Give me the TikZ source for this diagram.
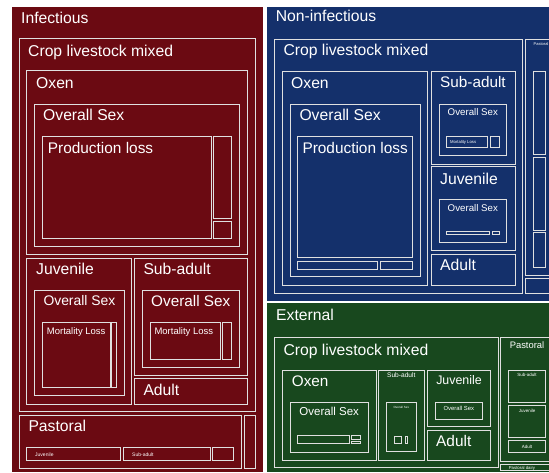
\documentclass[tikz,border=0pt]{standalone}
\usepackage{fontspec}
\setmainfont{Liberation Sans}
\definecolor{infc}{RGB}{107,10,18}
\definecolor{noninfc}{RGB}{20,48,107}
\definecolor{extc}{RGB}{24,72,30}
\definecolor{edge}{RGB}{224,224,224}
\begin{document}
\begin{tikzpicture}[x=1pt,y=-1pt,
	tile/.style={draw=edge,line width=0.9pt},
	lbl/.style={text=white,inner sep=0pt,anchor=base west,font=\fontsize{#1}{#1}\selectfont},
	lbl/.default=15.7,
	clbl/.style={lbl=#1,anchor=base},
	clbl/.default=15.7]
\clip (0,0) rectangle (549,472);
% Infectious
\fill[infc] (12,7) rectangle (263,472);
\node[lbl] (inf) at (21,23) {Infectious};
\draw[tile] (19,38.3) rectangle (255.7,411.7);
\node[lbl] (infCrop) at (28,56) {Crop livestock mixed};
\draw[tile] (26.7,70.7) rectangle (247.7,254);
\node[lbl] (infOxen) at (36,88) {Oxen};
\draw[tile] (34.7,104) rectangle (239.7,246.7);
\node[lbl] (infOxenSex) at (43,120.7) {Overall Sex};
\draw[tile] (42.3,136) rectangle (211,238.3);
\node[lbl=15.4] (infProd) at (47.7,153) {Production loss};
\draw[tile] (213.7,136) rectangle (231.7,218.3);
\draw[tile] (213.7,221) rectangle (231.7,238.3);
\draw[tile] (26.7,258.3) rectangle (131.7,404);
\node[lbl] (infJuv) at (36,274.3) {Juvenile};
\draw[tile] (34.7,290) rectangle (124,395.7);
\node[lbl=13.9] (infJuvSex) at (43.3,305) {Overall Sex};
\draw[tile] (42.3,322.7) rectangle (110,387.7);
\node[lbl=9.5] (infJuvMort) at (46.7,334.3) {Mortality Loss};
\draw[tile] (111.3,322.7) rectangle (116,387.7);
\draw[tile] (134.3,258.3) rectangle (247.7,375.7);
\node[lbl] (infSub) at (143.3,274.3) {Sub-adult};
\draw[tile] (142.3,290) rectangle (239.7,367.3);
\node[lbl=15.3] (infSubSex) at (151,306.7) {Overall Sex};
\draw[tile] (150,322.7) rectangle (220.7,359);
\node[lbl=9.5] (infSubMort) at (154.3,334.3) {Mortality Loss};
\draw[tile] (222.7,322.7) rectangle (231.7,359);
\draw[tile] (134.3,378.3) rectangle (247.7,404);
\node[lbl] (infAdult) at (143.3,395) {Adult};
\draw[tile] (19,415) rectangle (241.7,468.7);
\node[lbl] (infPast) at (28.3,431.7) {Pastoral};
\draw[tile] (26.7,447.3) rectangle (120.7,460);
\node[lbl=5] (infPastJuv) at (35,456) {Juvenile};
\draw[tile] (123.3,447.3) rectangle (210,460);
\node[lbl=5] (infPastSub) at (132,456) {Sub-adult};
\draw[tile] (212.3,447.3) rectangle (233.3,460);
\draw[tile] (244.3,415) rectangle (255.7,468.7);
% Non-infectious
\fill[noninfc] (266.5,7) rectangle (549,300.5);
\node[lbl] (non) at (275.7,21.7) {Non-infectious};
\draw[tile] (274,39) rectangle (522.5,293.5);
\node[lbl] (nonCrop) at (283.3,55) {Crop livestock mixed};
\draw[tile] (282.3,71) rectangle (427.7,285);
\node[lbl] (nonOxen) at (291,88.3) {Oxen};
\draw[tile] (290,104) rectangle (420,276.7);
\node[lbl] (nonOxenSex) at (299.3,120) {Overall Sex};
\draw[tile] (297.7,136) rectangle (412.7,257.5);
\node[lbl=15.4] (nonProd) at (302.3,153) {Production loss};
\draw[tile] (297.7,261.7) rectangle (377.3,269.3);
\draw[tile] (380,261.7) rectangle (412.7,269.3);
\draw[tile] (431,71) rectangle (515,164);
\node[lbl=15.3] (nonSub) at (440,87.7) {Sub-adult};
\draw[tile] (439,104) rectangle (506.7,155.7);
\node[clbl=9.7] (nonSubSex) at (472.8,115) {Overall Sex};
\draw[tile] (446.7,136) rectangle (487.7,147.7);
\node[lbl=4.2] (nonSubMort) at (450,143.3) {Mortality Loss};
\draw[tile] (490,136) rectangle (499,147.7);
\draw[tile] (431,166.7) rectangle (515,250.7);
\node[lbl] (nonJuv) at (440,184.3) {Juvenile};
\draw[tile] (439,199.3) rectangle (506.7,242.7);
\node[clbl=9.7] (nonJuvSex) at (472.8,211) {Overall Sex};
\draw[tile] (446.7,231.5) rectangle (489.3,234.5);
\draw[tile] (492,231.5) rectangle (499,234.5);
\draw[tile] (431,254) rectangle (515,285.7);
\node[lbl] (nonAdult) at (440,270.7) {Adult};
\draw[tile] (525.5,39) rectangle (552,275.5);
\node[lbl=4] (nonPast) at (533.5,45) {Pastoral};
\draw[tile] (533.3,71) rectangle (545,154.3);
\draw[tile] (533.3,157.7) rectangle (545,230);
\draw[tile] (533.3,232.5) rectangle (545,267.7);
\draw[tile] (525.5,278.5) rectangle (552,293.5);
% External
\fill[extc] (266.5,302.7) rectangle (549,472);
\node[lbl] (ext) at (276,320.7) {External};
\draw[tile] (274,337.3) rectangle (498.3,467.3);
\node[lbl] (extCrop) at (283.3,355) {Crop livestock mixed};
\draw[tile] (282.3,370) rectangle (376,460);
\node[lbl=15.3] (extOxen) at (291.7,386.7) {Oxen};
\draw[tile] (290,402.3) rectangle (368.3,452.3);
\node[clbl=11.5] (extOxenSex) at (329.2,415) {Overall Sex};
\draw[tile] (297.7,435) rectangle (349,443.3);
\draw[tile] (351.7,435) rectangle (360,439.3);
\draw[tile] (351.7,441.3) rectangle (360,443.5);
\draw[tile] (378.3,370) rectangle (424.3,460);
\node[clbl=6.6] (extSub) at (401.3,377.3) {Sub-adult};
\draw[tile] (386,402.3) rectangle (416.7,451.7);
\node[clbl=3] (extSubSex) at (401.3,408.5) {Overall Sex};
\draw[tile] (394.3,436) rectangle (401,443.3);
\draw[tile] (405,436) rectangle (407.5,443.3);
\draw[tile] (427.3,370) rectangle (490.7,426.7);
\node[clbl=12.4] (extJuv) at (459,384) {Juvenile};
\draw[tile] (435,402.3) rectangle (482.7,419.3);
\node[clbl=5.9] (extJuvSex) at (458.8,410.5) {Overall Sex};
\draw[tile] (427.3,430) rectangle (490.7,460);
\node[lbl=15.4] (extAdult) at (436,446) {Adult};
\draw[tile] (500.7,337.3) rectangle (549,461);
\node[clbl=9.4] (extPast) at (527,348.3) {Pastoral};
\draw[tile] (508.3,370) rectangle (545.7,402.7);
\node[clbl=4.5] (extPastSub) at (527,376) {Sub-adult};
\draw[tile] (508.3,405.7) rectangle (545.7,437.7);
\node[clbl=4.5] (extPastJuv) at (527,412) {Juvenile};
\draw[tile] (508.3,440) rectangle (545.7,452.7);
\node[clbl=4.5] (extPastAdult) at (527,448.3) {Adult};
\draw[tile] (500.7,464) rectangle (552,470.5);
\node[clbl=4.3] (extDairy) at (522,469) {Pastoral dairy};
\end{tikzpicture}
\end{document}
